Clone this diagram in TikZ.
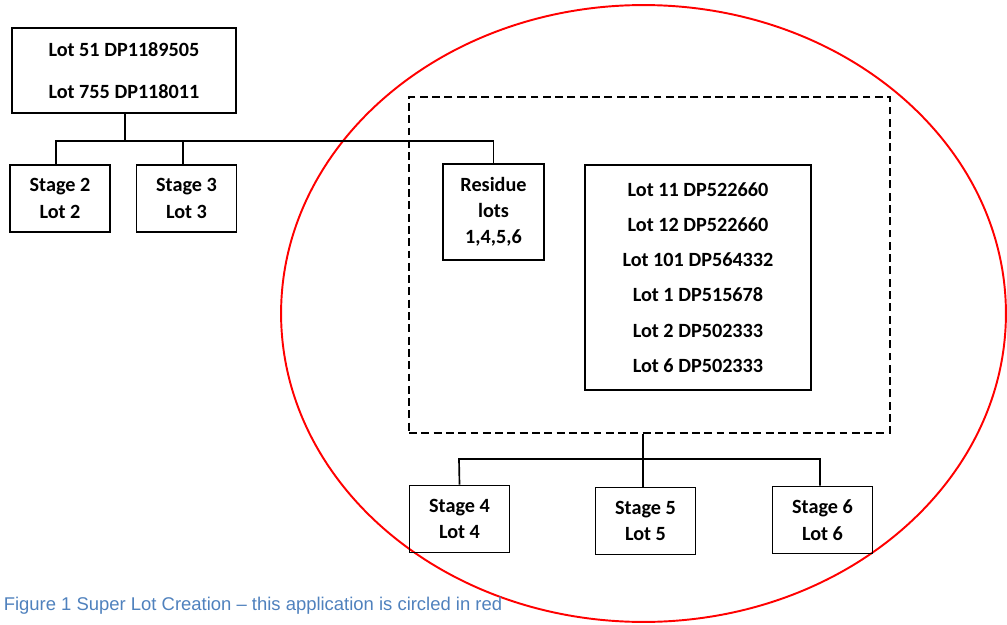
\documentclass[tikz,border=0pt]{standalone}
\usepackage{fontspec}
\setmainfont{Carlito}
\newfontfamily\captionfont{Liberation Sans}
\usepackage{tikz}

\definecolor{captionblue}{RGB}{79,129,189}

\begin{document}
\begin{tikzpicture}[x = 0.02cm, y = -0.02cm, line width = 0.95pt,
                    lotbox/.style = {draw, rectangle, align = center, inner sep = 0pt,
                                     font = \fontsize{11.5}{14}\selectfont\bfseries},
                    stagebox/.style = {lotbox, minimum width = 2cm, minimum height = 1.34cm}]

\useasboundingbox (0,0) rectangle (1007,625);

% red circle round the application
\draw[red, line width = 1.1pt] (643.5,313.5) ellipse [x radius = 7.25cm, y radius = 6.17cm];

% source lots
\node [lotbox, minimum width = 4.48cm, minimum height = 1.7cm] (src) at (124,70.5)
      {Lot 51 DP1189505 \\[10pt] Lot 755 DP118011};

% first stages
\node [stagebox] (st2) at (60,198.5) {Stage 2 \\[1.3pt] Lot 2};
\node [stagebox] (st3) at (186.5,198.5) {Stage 3 \\[1.3pt] Lot 3};
\node [lotbox, minimum width = 2.02cm, minimum height = 1.92cm] (res) at (493.5,212)
      {Residue \\[0.8pt] lots \\[0.8pt] 1,4,5,6};

% super lot
\node [draw, dash pattern = on 4.5pt off 2.5pt, line width = 1.5pt,
       minimum width = 9.62cm, minimum height = 6.72cm,
       inner sep = 0pt] (super) at (649.5,265) {};
\node [lotbox, minimum width = 4.52cm, minimum height = 4.5cm] (lots) at (698,277.5)
      {Lot 11 DP522660 \\[6pt] Lot 12 DP522660 \\[6pt] Lot 101 DP564332 \\[6pt]
       Lot 1 DP515678 \\[6pt] Lot 2 DP502333 \\[6pt] Lot 6 DP502333};

% later stages
\node [stagebox] (st4) at (459.5,519) {Stage 4 \\[1.3pt] Lot 4};
\node [stagebox] (st5) at (645.5,521) {Stage 5 \\[1.3pt] Lot 5};
\node [stagebox] (st6) at (822.5,520) {Stage 6 \\[1.3pt] Lot 6};

% top bus
\coordinate (bus1) at (125,141);
\draw (src.south -| bus1) -- (bus1);
\draw (st2.north -| 56,0) -- (56,141) -- (res.north |- bus1) -- (res.north);
\draw (st3.north -| 183,0) -- (183,141);

% bottom bus
\coordinate (bus2) at (643,459);
\draw (super.south -| bus2) -- (bus2);
\draw (st4.north) -- (459,459) -- (820,459) -- (st6.north -| 820,0);
\draw (bus2) -- (st5.north -| bus2);

\node [anchor = west, inner sep = 0pt, text = captionblue,
       font = \captionfont\fontsize{10.5}{12}\selectfont] (cap) at (3,606)
      {Figure 1 Super Lot Creation \textendash{} this application is circled in red};
\end{tikzpicture}
\end{document}
